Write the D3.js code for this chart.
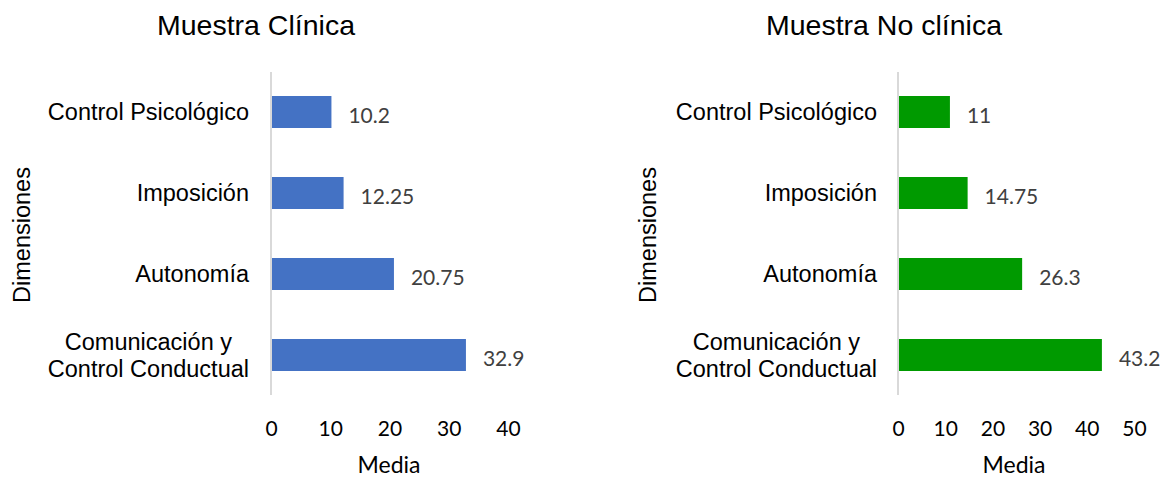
<!DOCTYPE html>
<html>
<head>
<meta charset="utf-8">
<script src="https://cdn.jsdelivr.net/npm/d3@7"></script>
<style>
  html, body { margin: 0; padding: 0; background: #fff; }
  svg { display: block; }
</style>
</head>
<body>
<svg id="chart" width="1170" height="478"></svg>
<script>
// Dimension names (top to bottom)
const categories = [
  "Control Psicológico",
  "Imposición",
  "Autonomía",
  "Comunicación y\nControl Conductual"
];

// Mean scores per sample
const clinicalValues = [10.2, 12.25, 20.75, 32.9];
const nonClinicalValues = [11, 14.75, 26.3, 43.2];

// Axis ticks
const clinicalTicks = [0, 10, 20, 30, 40];
const nonClinicalTicks = [0, 10, 20, 30, 40, 50];

const panels = [
  { title: "Muestra Clínica", values: clinicalValues, ticks: clinicalTicks,
    x0: 271, x1: 508, titleX: 256, mediaX: 389, labelRight: 249, dimX: 22, color: "#4472C4" },
  { title: "Muestra No clínica", values: nonClinicalValues, ticks: nonClinicalTicks,
    x0: 898, x1: 1134, titleX: 884, mediaX: 1014, labelRight: 877, dimX: 648, color: "#009A00" }
];

const svg = d3.select("#chart");
const arial = "'Liberation Sans', Arial, sans-serif";
const numFont = "Lato, 'Open Sans', sans-serif";

panels.forEach(p => {
  const maxTick = p.ticks[p.ticks.length - 1];
  const x = d3.scaleLinear().domain([0, maxTick]).range([p.x0, p.x1]);
  const y = d3.scaleBand().domain(categories).range([71.5, 395.5])
    .paddingInner(0.605).paddingOuter(0.3025);

  const g = svg.append("g");

  // Title
  g.append("text")
    .attr("x", p.titleX)
    .attr("y", 35)
    .attr("text-anchor", "middle")
    .attr("font-family", arial)
    .attr("font-size", 28.5)
    .attr("fill", "#000")
    .text(p.title);

  // Bars
  g.selectAll("rect.bar")
    .data(categories)
    .join("rect")
    .attr("class", "bar")
    .attr("x", x(0))
    .attr("y", d => y(d))
    .attr("width", (d, i) => x(p.values[i]) - x(0))
    .attr("height", y.bandwidth())
    .attr("fill", p.color);

  // Category axis line
  g.append("line")
    .attr("x1", x(0)).attr("x2", x(0))
    .attr("y1", 72).attr("y2", 395)
    .attr("stroke", "#d9d9d9")
    .attr("stroke-width", 2);

  // Value labels
  g.selectAll("text.val")
    .data(categories)
    .join("text")
    .attr("class", "val")
    .attr("x", (d, i) => x(p.values[i]) + 17)
    .attr("y", d => y(d) + y.bandwidth() / 2 + 2)
    .attr("dominant-baseline", "central")
    .attr("font-family", numFont)
    .attr("font-size", 21)
    .attr("fill", "#404040")
    .text((d, i) => String(p.values[i]));

  // Category labels (multi-line labels centred on their widest line)
  categories.forEach(c => {
    const lines = c.split("\n");
    const cy = y(c) + y.bandwidth() / 2;
    const lh = 27;
    const t = g.append("text")
      .attr("font-family", arial)
      .attr("font-size", 23.5)
      .attr("fill", "#000");
    const spans = lines.map((ln, k) =>
      t.append("tspan")
        .attr("y", cy + (k - (lines.length - 1) / 2) * lh)
        .attr("dominant-baseline", "central")
        .text(ln));
    if (lines.length === 1) {
      t.attr("text-anchor", "end");
      spans[0].attr("x", p.labelRight);
    } else {
      const w = d3.max(spans, s => s.node().getComputedTextLength());
      t.attr("text-anchor", "middle");
      spans.forEach(s => s.attr("x", p.labelRight - w / 2));
    }
  });

  // Value axis (labels only)
  const axis = g.append("g")
    .attr("transform", "translate(0,416)")
    .call(d3.axisBottom(x).tickValues(p.ticks).tickSize(0).tickPadding(0));
  axis.select(".domain").remove();
  axis.selectAll("text")
    .attr("dy", null)
    .attr("y", 11)
    .attr("dominant-baseline", "central")
    .attr("font-family", numFont)
    .attr("font-size", 21)
    .attr("fill", "#000");

  // Axis titles
  g.append("text")
    .attr("x", p.mediaX)
    .attr("y", 473)
    .attr("text-anchor", "middle")
    .attr("font-family", numFont)
    .attr("font-size", 23)
    .attr("fill", "#000")
    .text("Media");

  g.append("text")
    .attr("transform", `translate(${p.dimX},235) rotate(-90)`)
    .attr("text-anchor", "middle")
    .attr("dominant-baseline", "central")
    .attr("font-family", arial)
    .attr("font-size", 23.5)
    .attr("fill", "#000")
    .text("Dimensiones");
});
</script>
</body>
</html>
